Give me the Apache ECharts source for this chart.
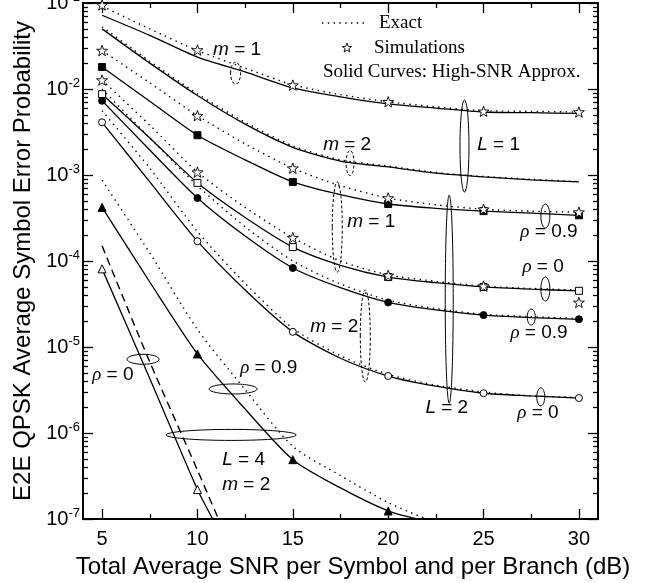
<!DOCTYPE html>
<html>
<head>
<meta charset="utf-8">
<script src="https://cdn.jsdelivr.net/npm/echarts@6/dist/echarts.min.js"></script>
<style>
  html, body { margin: 0; padding: 0; background: #fff; }
  #chart { width: 650px; height: 583px; }
</style>
</head>
<body>
<div id="chart"></div>
<script>
const SANS = 'Liberation Sans, Arial, sans-serif'
const SERIF = 'Liberation Serif, Times New Roman, serif'

// SNR grid (dB)
const snr = [5, 7.5, 10, 12.5, 15, 17.5, 20, 22.5, 25, 27.5, 30]
const simSnr = [5, 10, 15, 20, 25, 30]

// L = 1
const l1m1Approx = [0.072, 0.042, 0.0235, 0.0158, 0.0103, 0.0081, 0.0067, 0.0060, 0.0054, 0.0053, 0.0052]
const l1m1Exact = [0.092, 0.050, 0.028, 0.0175, 0.0112, 0.0086, 0.0071, 0.0062, 0.0056, 0.0055, 0.0054]
const l1m1Sim = [0.095, 0.0284, 0.0111, 0.0071, 0.0055, 0.0054]
const l1m2Approx = [0.050, 0.020, 0.0084, 0.0039, 0.0021, 0.00145, 0.00124, 0.00105, 0.00095, 0.00088, 0.00083]
const l1m2Exact = [0.053, 0.021, 0.0088, 0.0041, 0.00218, 0.0015, 0.00127, 0.00107, 0.00096, 0.00089, 0.00084]

// L = 2, m = 1
const l2m1r9Approx = [0.018, 0.0072, 0.0029, 0.0015, 0.00083, 0.00059, 0.00046, 0.00041, 0.00038, 0.00036, 0.00034]
const l2m1r9Exact = [0.028, 0.0118, 0.0049, 0.0023, 0.0012, 0.00075, 0.00054, 0.00045, 0.00040, 0.00038, 0.00037]
const l2m1r9Sim = [0.028, 0.0049, 0.0012, 0.00054, 0.00040, 0.00037]
const l2m1r0Approx = [0.0087, 0.0027, 0.00081, 0.00032, 0.000145, 0.000089, 0.000065, 0.000056, 0.000050, 0.000047, 0.000045]
const l2m1r0Exact = [0.0127, 0.0038, 0.00108, 0.00042, 0.000187, 0.000100, 0.000069, 0.000058, 0.000051, 0.000048, 0.000046]
const l2m1r0Sim = [0.0127, 0.00108, 0.000187, 0.000068, 0.000051, 0.000033]

// L = 2, m = 2
const l2m2r9Approx = [0.0073, 0.00195, 0.00054, 0.000195, 0.000083, 0.000049, 0.000033, 0.000027, 0.0000235, 0.000022, 0.000021]
const l2m2r9Exact = [0.0100, 0.0027, 0.00075, 0.00025, 0.000100, 0.000054, 0.000035, 0.000028, 0.000024, 0.0000225, 0.0000215]
const l2m2r0Approx = [0.0041, 0.00083, 0.00017, 0.000046, 0.000015, 0.0000074, 0.0000046, 0.0000035, 0.0000029, 0.0000027, 0.00000255]
const l2m2r0Exact = [0.0056, 0.0012, 0.00022, 0.000055, 0.0000165, 0.0000079, 0.0000048, 0.0000036, 0.0000030, 0.0000027, 0.0000026]

// L = 4, m = 2
const l4r9Snr = [5, 7.5, 10, 12.5, 15, 17.5, 20, 21.5]
const l4r9Approx = [4.2e-4, 5.7e-5, 8.3e-6, 1.9e-6, 4.9e-7, 2.3e-7, 1.24e-7, 1.0e-7]
const l4r9ExactSnr = [5, 7.5, 10, 12.5, 15, 17.5, 20, 22]
const l4r9Exact = [8.7e-4, 1.24e-4, 1.6e-5, 3.2e-6, 7.0e-7, 3.2e-7, 1.55e-7, 1.0e-7]
const l4r0Snr = [5, 7.5, 10, 10.8]
const l4r0Approx = [8.1e-5, 4.3e-6, 2.2e-7, 1.0e-7]
const l4r0ExactSnr = [5, 7.5, 10, 11.1]
const l4r0Exact = [1.5e-4, 6.7e-6, 3.7e-7, 1.0e-7]

// axis ticks
const xMajor = [5, 10, 15, 20, 25, 30]
const xMinor = [7.5, 12.5, 17.5, 22.5, 27.5]
const yMajor = [1e-7, 1e-6, 1e-5, 1e-4, 1e-3, 1e-2, 1e-1]
const yMinorSteps = [2, 3, 4, 5, 6, 7, 8, 9]
const yMinor = yMajor.slice(0, -1).flatMap(d => yMinorSteps.map(k => +(k * d).toPrecision(3)))

// 5-point star outline
const STAR_PTS = [[0, -10], [2.35, -3.24], [9.51, -3.09], [3.8, 1.24], [5.88, 8.09], [0, 4],
  [-5.88, 8.09], [-3.8, 1.24], [-9.51, -3.09], [-2.35, -3.24]]
const STAR = 'path://M' + STAR_PTS.map(p => p.join(',')).join('L') + 'Z'

const pairs = (xs, ys) => xs.map((x, i) => [x, ys[i]])

const solid = (xs, ys) => ({
  type: 'line', data: pairs(xs, ys), symbol: 'none', smooth: 0.25,
  lineStyle: { color: '#000', width: 1.3 }, z: 3
})
const exact = (xs, ys, dash) => ({
  type: 'line', data: pairs(xs, ys), symbol: 'none', smooth: 0.25,
  lineStyle: { color: '#000', width: 1.4, type: dash || [1.4, 4.4] }, z: 2
})
const marks = (xs, ys, symbol, filled, size) => ({
  type: 'scatter', data: pairs(xs, ys).filter(p => p[0] % 5 === 0),
  symbol, symbolSize: size,
  itemStyle: { color: filled ? '#000' : '#fff', borderColor: '#000', borderWidth: 1, opacity: 1 }, z: 5
})
const sims = ys => ({
  type: 'scatter', data: pairs(simSnr, ys), symbol: STAR, symbolSize: 11, symbolKeepAspect: true,
  itemStyle: { color: '#fff', borderColor: '#000', borderWidth: 0.9, opacity: 1 }, z: 6
})

const baseX = {
  type: 'value', min: 4, max: 31,
  splitLine: { show: false },
  axisLine: { show: true, onZero: false, lineStyle: { color: '#000', width: 2 } },
  axisLabel: { show: false }
}
const baseY = {
  type: 'log', logBase: 10, min: 1e-7, max: 1e-1,
  splitLine: { show: false },
  axisLine: { show: true, onZero: false, lineStyle: { color: '#000', width: 2 } },
  axisLabel: { show: false }
}
const tick = (values, len) => ({ show: true, inside: true, length: len, customValues: values, lineStyle: { color: '#000', width: 1.3 } })

const chart = echarts.init(document.getElementById('chart'))

chart.setOption({
  animation: false,
  grid: { left: 83, right: 52, top: 3, bottom: 64, containLabel: false, outerBoundsMode: 'none' },
  xAxis: [
    {
      ...baseX, position: 'bottom', axisTick: tick(xMajor, 10),
      axisLabel: { show: true, customValues: xMajor, margin: 10, fontSize: 20, fontFamily: SANS, color: '#000' },
      name: 'Total Average SNR per Symbol and per Branch (dB)', nameLocation: 'middle', nameGap: 36,
      nameTextStyle: { fontSize: 24, fontFamily: SANS, color: '#000', padding: [0, 0, 0, 25] }
    },
    { ...baseX, position: 'bottom', axisLine: { show: false }, axisTick: tick(xMinor, 5) },
    { ...baseX, position: 'top', axisTick: tick(xMajor, 10) },
    { ...baseX, position: 'top', axisLine: { show: false }, axisTick: tick(xMinor, 5) }
  ],
  yAxis: [
    {
      ...baseY, position: 'left', axisTick: tick(yMajor, 10),
      axisLabel: {
        show: true, customValues: yMajor, margin: 3,
        formatter: v => `{b|10}{s|${Math.round(Math.log10(v))}}`,
        rich: {
          b: { fontSize: 20, fontFamily: SANS, color: '#000' },
          s: { fontSize: 13, fontFamily: SANS, color: '#000', padding: [0, 0, 12, 0] }
        }
      },
      name: 'E2E QPSK Average Symbol Error Probability', nameLocation: 'middle', nameGap: 45,
      nameTextStyle: { fontSize: 24, fontFamily: SANS, color: '#000' }
    },
    { ...baseY, position: 'left', axisLine: { show: false }, axisTick: tick(yMinor, 5) },
    { ...baseY, position: 'right', axisTick: tick(yMajor, 10) },
    { ...baseY, position: 'right', axisLine: { show: false }, axisTick: tick(yMinor, 5) }
  ],
  series: [
    exact(snr, l1m1Exact), solid(snr, l1m1Approx), sims(l1m1Sim),
    exact(snr, l1m2Exact), solid(snr, l1m2Approx),
    exact(snr, l2m1r9Exact), solid(snr, l2m1r9Approx), marks(snr, l2m1r9Approx, 'rect', true, 7), sims(l2m1r9Sim),
    exact(snr, l2m1r0Exact), solid(snr, l2m1r0Approx), marks(snr, l2m1r0Approx, 'rect', false, 7), sims(l2m1r0Sim),
    exact(snr, l2m2r9Exact), solid(snr, l2m2r9Approx), marks(snr, l2m2r9Approx, 'circle', true, 7),
    exact(snr, l2m2r0Exact), solid(snr, l2m2r0Approx), marks(snr, l2m2r0Approx, 'circle', false, 7),
    exact(l4r9ExactSnr, l4r9Exact), solid(l4r9Snr, l4r9Approx), marks(l4r9Snr, l4r9Approx, 'triangle', true, 8),
    exact(l4r0ExactSnr, l4r0Exact, [8, 5]), solid(l4r0Snr, l4r0Approx), marks(l4r0Snr, l4r0Approx, 'triangle', false, 8)
  ]
})

// annotations, placed in data coordinates
const toPx = (x, y) => chart.convertToPixel({ xAxisIndex: 0, yAxisIndex: 0 }, [x, y])

// [snr, value, rx, ry, dashed]
const ellipses = [
  [12.0, 0.0153, 5, 11, true],
  [18.0, 1.38e-3, 4, 12.5, true],
  [17.33, 2.48e-4, 5, 45, true],
  [18.8, 1.34e-5, 5, 46, true],
  [24.0, 2.17e-3, 4.5, 46, false],
  [23.2, 3.6e-5, 4, 104, false],
  [28.24, 3.33e-4, 4.5, 12, false],
  [28.24, 4.72e-5, 4.5, 12, false],
  [27.5, 2.23e-5, 4, 8, false],
  [28.0, 2.63e-6, 4, 9, false],
  [7.15, 7.2e-6, 16, 5, false],
  [11.87, 3.25e-6, 24, 5, false],
  [11.77, 9.5e-7, 65, 5.5, false]
]

// [symbol, rest, snr, value]
const notes = [
  ['m', ' = 1', 10.82, 0.0284],
  ['m', ' = 2', 16.59, 2.23e-3],
  ['L', ' = 1', 24.67, 2.23e-3],
  ['m', ' = 1', 17.85, 2.84e-4],
  ['ρ', ' = 0.9', 26.93, 2.17e-4],
  ['ρ', ' = 0', 27.04, 8.5e-5],
  ['m', ' = 2', 15.91, 1.71e-5],
  ['ρ', ' = 0.9', 26.41, 1.46e-5],
  ['L', ' = 2', 21.95, 1.95e-6],
  ['ρ', ' = 0', 26.77, 1.71e-6],
  ['ρ', ' = 0', 4.48, 4.72e-6],
  ['ρ', ' = 0.9', 12.24, 5.7e-6],
  ['L', ' = 4', 11.30, 4.85e-7],
  ['m', ' = 2', 11.30, 2.48e-7]
]

const graphics = []
ellipses.forEach(([x, y, rx, ry, dashed]) => {
  const [cx, cy] = toPx(x, y)
  graphics.push({
    type: 'ellipse', shape: { cx, cy, rx, ry }, z: 10,
    style: { fill: null, stroke: '#000', lineWidth: 1, lineDash: dashed ? [3, 2] : null }
  })
})
notes.forEach(([sym, rest, x, y]) => {
  const [px, py] = toPx(x, y)
  graphics.push({
    type: 'text', x: px, y: py, z: 10,
    style: {
      text: `{i|${sym}}{r|${rest}}`, verticalAlign: 'middle', align: 'left',
      rich: {
        i: { fontSize: 19, fontStyle: 'italic', fontFamily: sym === 'ρ' ? SERIF : SANS, fill: '#000' },
        r: { fontSize: 19, fontFamily: SANS, fill: '#000' }
      }
    }
  })
})

// legend box (top right)
graphics.push(
  { type: 'line', shape: { x1: 322, y1: 23, x2: 364, y2: 23 }, style: { stroke: '#000', lineWidth: 1.4, lineDash: [1.4, 4.4] } },
  { type: 'text', x: 379, y: 23, style: { text: 'Exact', font: '19px ' + SERIF, fill: '#000', verticalAlign: 'middle' } },
  {
    type: 'polygon', x: 347, y: 48, scaleX: 0.5, scaleY: 0.5,
    shape: { points: STAR_PTS }, style: { fill: '#fff', stroke: '#000', lineWidth: 1.8 }
  },
  { type: 'text', x: 374, y: 48, style: { text: 'Simulations', font: '19px ' + SERIF, fill: '#000', verticalAlign: 'middle' } },
  { type: 'text', x: 323, y: 72, style: { text: 'Solid Curves: High-SNR Approx.', font: '19px ' + SERIF, fill: '#000', verticalAlign: 'middle' } }
)

chart.setOption({ graphic: graphics })
</script>
</body>
</html>
